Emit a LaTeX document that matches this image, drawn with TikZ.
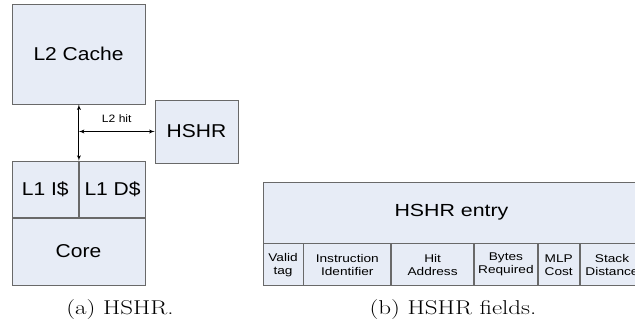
\documentclass[tikz,border=0pt]{standalone}
\usepackage{graphicx}
\usepackage{fontspec}
\usepackage{tikz}
\usetikzlibrary{shapes, arrows, positioning, calc}
\newfontfamily\sansleft[FakeStretch=1.13]{Liberation Sans}
\newfontfamily\sansright[FakeStretch=1.22]{Liberation Sans}
\definecolor{blockfill}{RGB}{231,236,246}
\definecolor{blockline}{RGB}{105,105,105}
\tikzset{block/.style={draw=blockline, fill=blockfill, rectangle, inner sep=0pt, line width=0.8pt,
                       font=\sansleft\fontsize{18.6}{20}\selectfont},
         field/.style={block, minimum height=42, align=center,
                       font=\sansright\fontsize{11.2}{13}\selectfont},
         caption/.style={font=\fontsize{20}{22}\selectfont},
         >=latex'}

\begin{document}
\begin{tikzpicture}[x=1pt, y=-1pt, >=latex']
        \useasboundingbox (0,0) rectangle (635,326);
        % (a) cache hierarchy
        \node[block, minimum width=133, minimum height=100] (l2) at (78.5,54) {L2 Cache};
        \node[block, minimum width=83, minimum height=63] (hshr) at (196.5,131.5) {HSHR};
        \node[block, minimum width=133, minimum height=67] (core) at (78.5,251.5) {Core};
        \node[block, minimum width=66.5, minimum height=56, above right=0pt and 0pt of core.north west] (l1i) {L1 I\$};
        \node[block, minimum width=66.5, minimum height=56, right=0pt of l1i] (l1d) {L1 D\$};
        \coordinate (hit) at (l1d.north west |- hshr.west);

        \draw[<->, line width=0.9pt] (l1d.north west) -- (l1d.north west |- l2.south);
        \draw[<->, line width=0.9pt] (hit) -- node[above=5pt, font=\sansleft\fontsize{10.7}{12}\selectfont] {L2 hit} (hshr.west);

        % (b) entry fields
        \node[block, minimum width=377, minimum height=61, font=\sansright\fontsize{17.5}{19}\selectfont] (entry) at (451.5,212.5) {HSHR entry};
        \node[field, minimum width=40, below right=0pt and 0pt of entry.south west] (valid) {Valid\\tag};
        \node[field, minimum width=87, right=0pt of valid] (instr) {Instruction\\Identifier};
        \node[field, minimum width=82, right=0pt of instr] (addr) {Hit\\Address};
        \node[field, minimum width=63, right=0pt of addr] (bytes) {Bytes\\Required};
        \node[field, minimum width=41, right=0pt of bytes] (mlp) {MLP\\Cost};
        \node[field, minimum width=64, right=0pt of mlp] (stack) {Stack\\Distance};

        \node[caption] (capa) at (120,310) {\scalebox{1.25}[1]{(a) HSHR.}};
        \node[caption] (capb) at (453,310) {\scalebox{1.25}[1]{(b) HSHR fields.}};
    \end{tikzpicture}
\end{document}
